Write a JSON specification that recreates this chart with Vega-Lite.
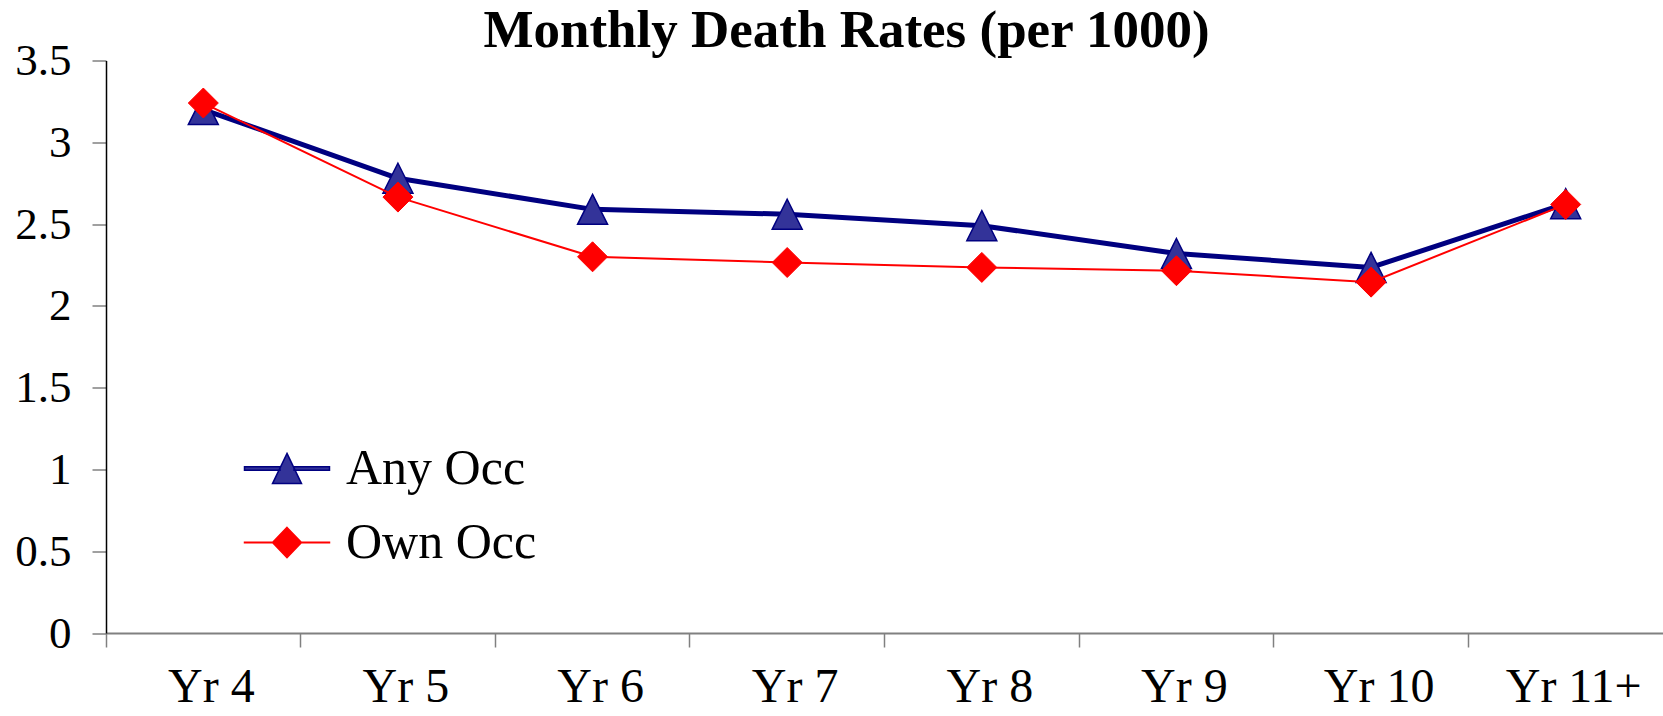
{
  "$schema": "https://vega.github.io/schema/vega-lite/v6.json",
  "autosize": {"type": "none"},
  "padding": {"left": 106, "top": 60.5, "right": 0, "bottom": 83},
  "width": 1557,
  "height": 572.5,
  "background": "white",
  "config": {"view": {"stroke": null}},
  "title": {"text": "Monthly Death Rates (per 1000)", "font": "Liberation Serif", "fontSize": 53, "fontWeight": "bold", "anchor": "middle", "frame": "group", "baseline": "alphabetic", "offset": -61, "dx": -38, "color": "black"},
  "data": {"values": [
    {"year": "Yr 4", "series": "Any Occ", "rate": 3.20},
    {"year": "Yr 5", "series": "Any Occ", "rate": 2.78},
    {"year": "Yr 6", "series": "Any Occ", "rate": 2.59},
    {"year": "Yr 7", "series": "Any Occ", "rate": 2.56},
    {"year": "Yr 8", "series": "Any Occ", "rate": 2.49},
    {"year": "Yr 9", "series": "Any Occ", "rate": 2.32},
    {"year": "Yr 10", "series": "Any Occ", "rate": 2.235},
    {"year": "Yr 11+", "series": "Any Occ", "rate": 2.625},
    {"year": "Yr 4", "series": "Own Occ", "rate": 3.24},
    {"year": "Yr 5", "series": "Own Occ", "rate": 2.665},
    {"year": "Yr 6", "series": "Own Occ", "rate": 2.30},
    {"year": "Yr 7", "series": "Own Occ", "rate": 2.265},
    {"year": "Yr 8", "series": "Own Occ", "rate": 2.235},
    {"year": "Yr 9", "series": "Own Occ", "rate": 2.215},
    {"year": "Yr 10", "series": "Own Occ", "rate": 2.145},
    {"year": "Yr 11+", "series": "Own Occ", "rate": 2.62}
  ]},
  "encoding": {
    "x": {"field": "year", "type": "nominal", "sort": ["Yr 4", "Yr 5", "Yr 6", "Yr 7", "Yr 8", "Yr 9", "Yr 10", "Yr 11+"],
      "scale": {"type": "band", "paddingInner": 0, "paddingOuter": 0},
      "axis": {"title": null, "labelAngle": 0, "bandPosition": 0, "labelOffset": 8, "labelFont": "Liberation Serif", "labelFontSize": 48, "labelColor": "black", "labelPadding": 16, "labelLimit": 400, "tickSize": 14, "tickColor": "#808080", "tickWidth": 1.5, "domainColor": "#808080", "domainWidth": 2, "grid": false}},
    "y": {"field": "rate", "type": "quantitative",
      "scale": {"domain": [0, 3.5], "nice": false, "zero": true},
      "axis": {"title": null, "values": [0, 0.5, 1, 1.5, 2, 2.5, 3, 3.5], "format": "~g", "labelFont": "Liberation Serif", "labelFontSize": 45, "labelColor": "black", "labelPadding": 21, "tickSize": 14, "tickColor": "#808080", "tickWidth": 1.5, "domainColor": "black", "domainWidth": 1.5, "grid": false}}
  },
  "layer": [
    {"transform": [{"filter": "datum.series === 'Any Occ'"}],
     "mark": {"type": "line", "color": "#000080", "strokeWidth": 5, "strokeJoin": "round"}},
    {"transform": [{"filter": "datum.series === 'Any Occ'"}],
     "mark": {"type": "point", "filled": true, "opacity": 1, "shape": "M0,-1L1,1L-1,1Z", "size": 900, "fill": "#333399", "stroke": "#000080", "strokeWidth": 1.5}},
    {"transform": [{"filter": "datum.series === 'Own Occ'"}],
     "mark": {"type": "line", "color": "#ff0000", "strokeWidth": 2}},
    {"transform": [{"filter": "datum.series === 'Own Occ'"}],
     "mark": {"type": "point", "filled": true, "opacity": 1, "shape": "M0,-1L1,0L0,1L-1,0Z", "size": 900, "fill": "#ff0000", "stroke": "#ff0000", "strokeWidth": 1}},
    {"mark": {"type": "point", "filled": true, "opacity": 0},
     "encoding": {
       "shape": {"field": "series", "type": "nominal",
         "scale": {"domain": ["Any Occ", "Own Occ"], "range": ["M-1.214,-0.05H-0.2V0.05H-1.214Z M0.2,-0.05H1.214V0.05H0.2Z M0,-0.43L0.414,0.43H-0.414Z", "M-1.214,-0.01H-0.4V0.01H-1.214Z M0.4,-0.01H1.214V0.01H0.4Z M0,-0.43L0.414,0L0,0.43L-0.414,0Z"]},
         "legend": {"title": null, "orient": "none", "legendX": 145, "legendY": 372, "padding": 0, "symbolSize": 4900, "symbolOpacity": 1, "symbolStrokeWidth": 1.5, "labelFont": "Liberation Serif", "labelFontSize": 50, "labelColor": "black", "labelOffset": 23, "labelLimit": 500, "rowPadding": 13}},
       "fill": {"field": "series", "type": "nominal",
         "scale": {"domain": ["Any Occ", "Own Occ"], "range": ["#333399", "#ff0000"]},
         "legend": {"title": null, "orient": "none", "legendX": 145, "legendY": 372, "padding": 0, "symbolSize": 4900, "symbolOpacity": 1, "symbolStrokeWidth": 1.5, "labelFont": "Liberation Serif", "labelFontSize": 50, "labelColor": "black", "labelOffset": 23, "labelLimit": 500, "rowPadding": 13}},
       "stroke": {"field": "series", "type": "nominal",
         "scale": {"domain": ["Any Occ", "Own Occ"], "range": ["#000080", "#ff0000"]},
         "legend": {"title": null, "orient": "none", "legendX": 145, "legendY": 372, "padding": 0, "symbolSize": 4900, "symbolOpacity": 1, "symbolStrokeWidth": 1.5, "labelFont": "Liberation Serif", "labelFontSize": 50, "labelColor": "black", "labelOffset": 23, "labelLimit": 500, "rowPadding": 13}}
     }}
  ]
}
